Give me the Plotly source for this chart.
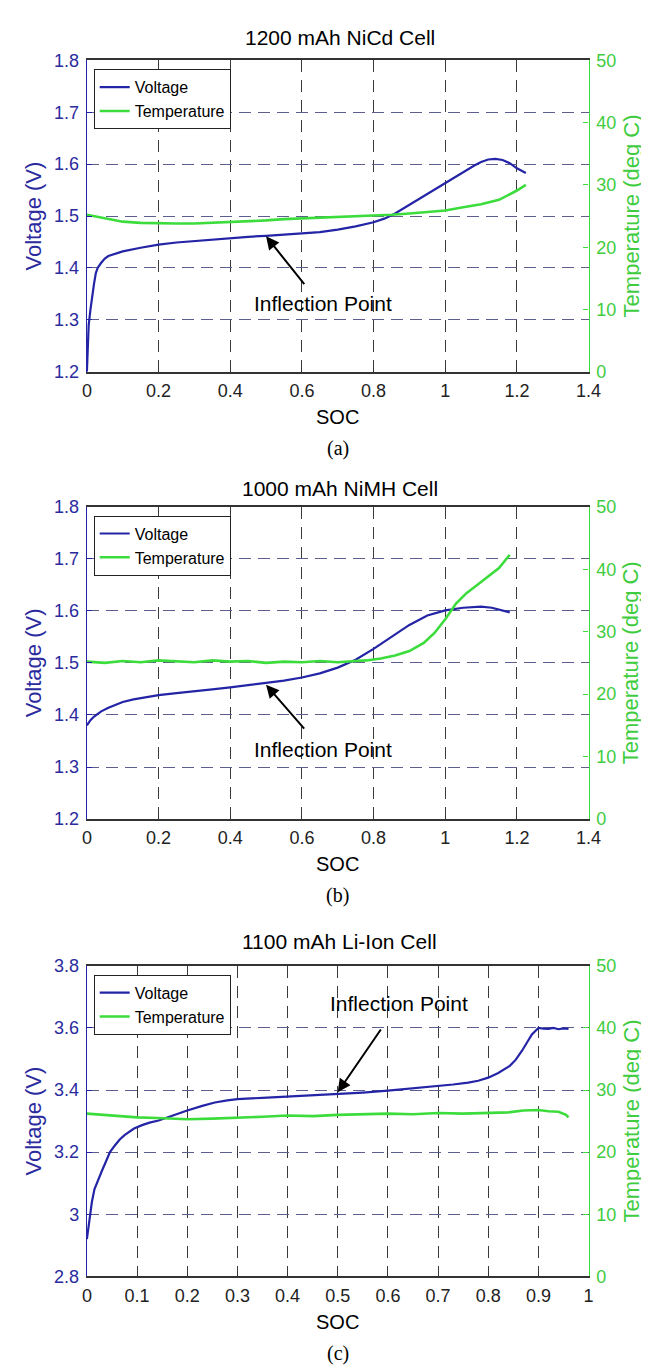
import plotly.graph_objects as go

# ---------------- data ----------------
titles = ["1200 mAh NiCd Cell", "1000 mAh NiMH Cell", "1100 mAh Li-Ion Cell"]
sublabels = ["(a)", "(b)", "(c)"]

soc_a_v = [0, 0.002, 0.005, 0.01, 0.015, 0.02, 0.025, 0.03, 0.04, 0.05, 0.06, 0.08, 0.1, 0.15, 0.2,
           0.25, 0.3, 0.35, 0.4, 0.45, 0.5, 0.55, 0.6, 0.65, 0.7, 0.75, 0.8, 0.83, 0.86, 0.9, 0.95,
           1.0, 1.04, 1.08, 1.1, 1.12, 1.14, 1.16, 1.18, 1.2, 1.225]
volt_a = [1.20, 1.26, 1.29, 1.32, 1.35, 1.37, 1.39, 1.40, 1.41, 1.418, 1.423, 1.428, 1.432, 1.439, 1.445,
          1.449, 1.452, 1.455, 1.458, 1.460, 1.462, 1.464, 1.466, 1.469, 1.474, 1.480, 1.488, 1.495, 1.505,
          1.522, 1.543, 1.563, 1.580, 1.597, 1.604, 1.609, 1.610, 1.608, 1.602, 1.592, 1.583]
soc_a_t = [0, 0.03, 0.06, 0.1, 0.15, 0.2, 0.25, 0.3, 0.35, 0.4, 0.45, 0.5, 0.55, 0.6, 0.65, 0.7, 0.75,
           0.8, 0.85, 0.9, 0.95, 1.0, 1.05, 1.1, 1.15, 1.18, 1.2, 1.225]
temp_a = [25.2, 24.9, 24.5, 24.1, 23.9, 23.8, 23.8, 23.8, 23.9, 24.1, 24.2, 24.3, 24.5, 24.6, 24.7, 24.8,
          24.9, 25.0, 25.2, 25.4, 25.6, 25.9, 26.4, 26.9, 27.6, 28.5, 29.1, 30.0]

soc_b_v = [0, 0.01, 0.02, 0.04, 0.06, 0.08, 0.1, 0.13, 0.16, 0.2, 0.25, 0.3, 0.35, 0.4, 0.45, 0.5, 0.55,
           0.6, 0.65, 0.7, 0.75, 0.8, 0.85, 0.9, 0.95, 1.0, 1.05, 1.08, 1.1, 1.13, 1.16, 1.18]
volt_b = [1.380, 1.390, 1.397, 1.407, 1.414, 1.420, 1.425, 1.430, 1.434, 1.438, 1.442, 1.445, 1.449, 1.453,
          1.457, 1.461, 1.466, 1.472, 1.480, 1.491, 1.506, 1.527, 1.550, 1.573, 1.591, 1.601, 1.606, 1.608,
          1.608, 1.606, 1.601, 1.597]
soc_b_t = [0, 0.05, 0.1, 0.15, 0.2, 0.25, 0.3, 0.35, 0.4, 0.45, 0.5, 0.55, 0.6, 0.65, 0.7, 0.75, 0.78,
           0.82, 0.86, 0.9, 0.94, 0.97, 1.0, 1.03, 1.06, 1.09, 1.12, 1.15, 1.18]
temp_b = [25.2, 25.0, 25.3, 25.1, 25.4, 25.2, 25.1, 25.4, 25.2, 25.3, 25.0, 25.2, 25.1, 25.3, 25.1, 25.3,
          25.4, 25.7, 26.2, 26.9, 28.2, 29.8, 32.0, 34.5, 36.2, 37.5, 38.9, 40.2, 42.3]

soc_c_v = [0, 0.003, 0.006, 0.01, 0.015, 0.022, 0.03, 0.038, 0.046, 0.055, 0.065, 0.075, 0.085, 0.094,
           0.11, 0.125, 0.143, 0.17, 0.2, 0.23, 0.255, 0.28, 0.3, 0.35, 0.4, 0.45, 0.5, 0.55, 0.6, 0.65,
           0.7, 0.73, 0.76, 0.78, 0.8, 0.82, 0.843, 0.855, 0.867, 0.877, 0.887, 0.895, 0.9, 0.91, 0.92,
           0.93, 0.94, 0.95, 0.96]
volt_c = [2.92, 2.96, 3.00, 3.04, 3.08, 3.11, 3.14, 3.17, 3.20, 3.22, 3.24, 3.255, 3.267, 3.276, 3.287,
          3.295, 3.302, 3.318, 3.334, 3.349, 3.360, 3.367, 3.371, 3.375, 3.379, 3.383, 3.387, 3.392, 3.398,
          3.405, 3.413, 3.418, 3.424, 3.430, 3.440, 3.455, 3.478, 3.498, 3.526, 3.552, 3.579, 3.592, 3.600,
          3.598, 3.597, 3.600, 3.596, 3.599, 3.597]
soc_c_t = [0, 0.03, 0.06, 0.1, 0.14, 0.2, 0.25, 0.3, 0.35, 0.4, 0.45, 0.5, 0.55, 0.6, 0.65, 0.7, 0.75,
           0.8, 0.84, 0.87, 0.9, 0.92, 0.94, 0.955, 0.96]
temp_c = [26.2, 26.0, 25.8, 25.6, 25.5, 25.3, 25.4, 25.5, 25.7, 25.9, 25.8, 26.0, 26.1, 26.2, 26.1, 26.3,
          26.2, 26.3, 26.4, 26.7, 26.8, 26.6, 26.5, 26.0, 25.6]

x_ticks_ab = [0, 0.2, 0.4, 0.6, 0.8, 1.0, 1.2, 1.4]
x_text_ab = ["0", "0.2", "0.4", "0.6", "0.8", "1", "1.2", "1.4"]
x_ticks_c = [0, 0.1, 0.2, 0.3, 0.4, 0.5, 0.6, 0.7, 0.8, 0.9, 1.0]
x_text_c = ["0", "0.1", "0.2", "0.3", "0.4", "0.5", "0.6", "0.7", "0.8", "0.9", "1"]
v_ticks_ab = [1.2, 1.3, 1.4, 1.5, 1.6, 1.7, 1.8]
v_text_ab = ["1.2", "1.3", "1.4", "1.5", "1.6", "1.7", "1.8"]
v_ticks_c = [2.8, 3.0, 3.2, 3.4, 3.6, 3.8]
v_text_c = ["2.8", "3", "3.2", "3.4", "3.6", "3.8"]
t_ticks = [0, 10, 20, 30, 40, 50]
t_text = ["0", "10", "20", "30", "40", "50"]

# inflection annotations: (head x, head y, tail x, tail y, text x, text y)
infl_a = (0.5, 1.461, 0.61, 1.366, 0.66, 1.331)
infl_b = (0.5, 1.458, 0.61, 1.371, 0.66, 1.334)
infl_c = (0.5, 3.393, 0.588, 3.60, 0.622, 3.68)

# ---------------- layout helpers ----------------
W, H = 649, 1366
def fx(px):
    return px / W
def fy(py):
    return 1 - py / H

PL, PR = 76, 592
panel_px = [(43, 359), (496, 813), (962, 1277)]

VCOL = "#2424a6"
TCOL = "#3ddc3d"
VTXT = "#2b2b9e"
TTXT = "#3fcc3f"
HGRID = "#5e5e8e"
VGRID = "#3a3a3a"
FONT = "Liberation Sans, Arial, sans-serif"

panels = [
    dict(sv=soc_a_v, v=volt_a, st=soc_a_t, t=temp_a, xr=[0, 1.4], xt=x_ticks_ab, xtt=x_text_ab,
         vr=[1.2, 1.8], vt=v_ticks_ab, vtt=v_text_ab, infl=infl_a),
    dict(sv=soc_b_v, v=volt_b, st=soc_b_t, t=temp_b, xr=[0, 1.4], xt=x_ticks_ab, xtt=x_text_ab,
         vr=[1.2, 1.8], vt=v_ticks_ab, vtt=v_text_ab, infl=infl_b),
    dict(sv=soc_c_v, v=volt_c, st=soc_c_t, t=temp_c, xr=[0, 1.0], xt=x_ticks_c, xtt=x_text_c,
         vr=[2.8, 3.8], vt=v_ticks_c, vtt=v_text_c, infl=infl_c),
]

fig = go.Figure()
layout = dict(width=W, height=H, autosize=False, margin=dict(l=0, r=0, t=0, b=0, pad=0),
              paper_bgcolor="white", plot_bgcolor="white", showlegend=True,
              font=dict(family=FONT, size=18, color="black"))
annotations = []

for i, p in enumerate(panels):
    n = i + 1
    xname = "x" if n == 1 else f"x{n}"
    yl = 2 * i + 1
    yr = 2 * i + 2
    ylname = "y" if yl == 1 else f"y{yl}"
    yrname = f"y{yr}"
    top, bot = panel_px[i]
    legname = "legend" if n == 1 else f"legend{n}"

    fig.add_trace(go.Scatter(x=p["sv"], y=p["v"], mode="lines", name="Voltage",
                             line=dict(color=VCOL, width=2.2), xaxis=xname, yaxis=ylname,
                             legend=legname))
    fig.add_trace(go.Scatter(x=p["st"], y=p["t"], mode="lines", name="Temperature",
                             line=dict(color=TCOL, width=2.6), xaxis=xname, yaxis=yrname,
                             legend=legname))

    xkey = "xaxis" if n == 1 else f"xaxis{n}"
    ylkey = "yaxis" if yl == 1 else f"yaxis{yl}"
    yrkey = f"yaxis{yr}"
    layout[xkey] = dict(domain=[fx(PL), fx(PR)], anchor=ylname, range=p["xr"],
                        tickmode="array", tickvals=p["xt"], ticktext=p["xtt"],
                        showgrid=True, gridcolor=VGRID, griddash="12px,8px", gridwidth=1.2,
                        zeroline=False, showline=True, linecolor="#333333", linewidth=1.5,
                        mirror=True, ticks="inside", ticklen=5, tickcolor="#333333",
                        tickfont=dict(size=18, color="#222222", family=FONT),
                        ticklabelstandoff=2)
    layout[ylkey] = dict(domain=[fy(bot), fy(top)], anchor=xname, range=p["vr"],
                         tickmode="array", tickvals=p["vt"], ticktext=p["vtt"],
                         showgrid=True, gridcolor=HGRID, griddash="12px,7px", gridwidth=1.2,
                         zeroline=False, showline=True, linecolor=VCOL, linewidth=1.3,
                         ticks="inside", ticklen=5, tickcolor=VCOL,
                         tickfont=dict(size=18, color=VTXT, family=FONT), ticklabelstandoff=3)
    layout[yrkey] = dict(domain=[fy(bot), fy(top)], anchor=xname, overlaying=ylname, side="right",
                         range=[0, 50], tickmode="array", tickvals=t_ticks, ticktext=t_text,
                         showgrid=False, zeroline=False, showline=True, linecolor=TCOL, linewidth=1.3,
                         ticks="inside", ticklen=5, tickcolor=TCOL,
                         tickfont=dict(size=18, color=TTXT, family=FONT), ticklabelstandoff=3)
    layout[legname] = dict(x=fx(83), y=fy(top + 9), xanchor="left", yanchor="top",
                           bgcolor="white", bordercolor="#222222", borderwidth=1,
                           font=dict(size=16, color="black", family=FONT),
                           tracegroupgap=0, itemwidth=30)

    mid = (top + bot) / 2
    title_y = [20, 477, 937][i]
    annotations.append(dict(text=titles[i], x=fx(336), y=fy(title_y), xref="paper", yref="paper",
                            showarrow=False, font=dict(size=21, color="black", family=FONT),
                            xanchor="center", yanchor="middle"))
    annotations.append(dict(text="SOC", x=fx(334), y=fy(bot + 46), xref="paper", yref="paper",
                            showarrow=False, font=dict(size=20, color="black", family=FONT),
                            xanchor="center", yanchor="middle"))
    annotations.append(dict(text=sublabels[i], x=fx(334), y=fy(bot + 78), xref="paper", yref="paper",
                            showarrow=False,
                            font=dict(size=20, color="black", family="Liberation Serif, Times New Roman, serif"),
                            xanchor="center", yanchor="middle"))
    annotations.append(dict(text="Voltage (V)", x=fx(21), y=fy(mid), xref="paper", yref="paper",
                            showarrow=False, textangle=-90,
                            font=dict(size=22, color=VTXT, family=FONT),
                            xanchor="center", yanchor="middle"))
    annotations.append(dict(text="Temperature (deg C)", x=fx(636), y=fy(mid), xref="paper", yref="paper",
                            showarrow=False, textangle=-90,
                            font=dict(size=22, color=TTXT, family=FONT),
                            xanchor="center", yanchor="middle"))
    hx, hy, tx, ty, txx, txy = p["infl"]
    annotations.append(dict(text="", x=hx, y=hy, ax=tx, ay=ty, xref=xname, yref=ylname,
                            axref=xname, ayref=ylname, showarrow=True, arrowhead=2,
                            arrowsize=1.3, arrowwidth=2, arrowcolor="black"))
    annotations.append(dict(text="Inflection Point", x=txx, y=txy, xref=xname, yref=ylname,
                            showarrow=False, font=dict(size=21, color="black", family=FONT),
                            xanchor="center", yanchor="middle"))

layout["annotations"] = annotations
fig.update_layout(**layout)
fig.write_html("out.html")
